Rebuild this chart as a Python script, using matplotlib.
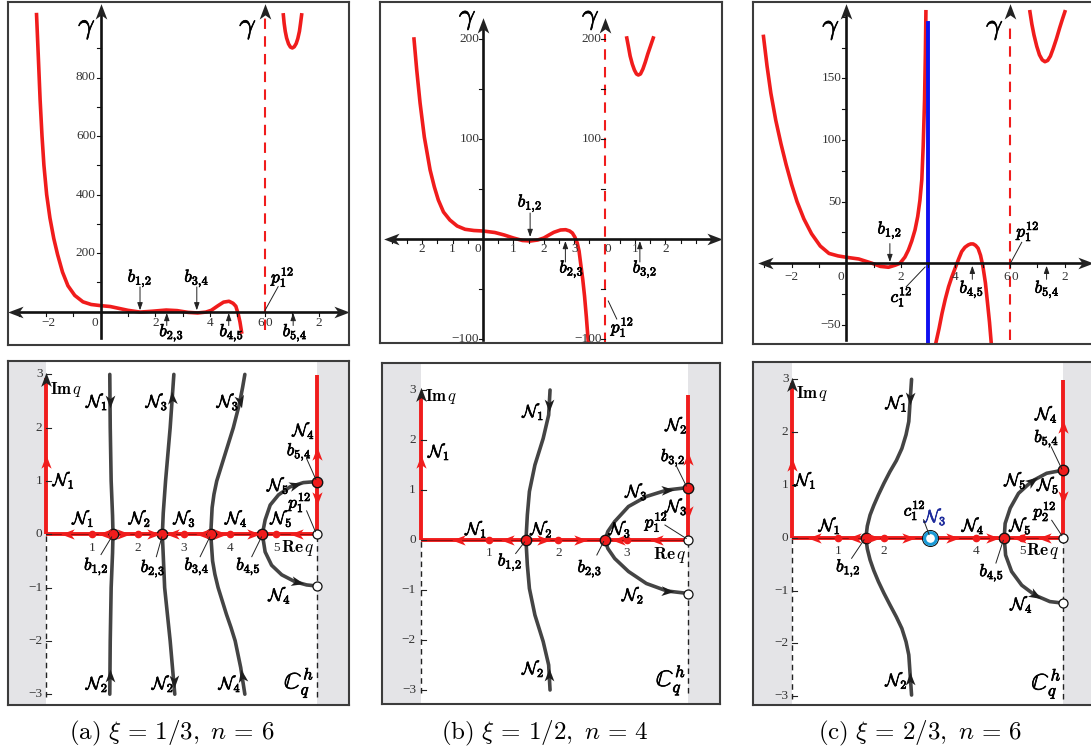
import numpy as np
import matplotlib
matplotlib.use("Agg")
import matplotlib.pyplot as plt
import matplotlib.patheffects as pe
from matplotlib.markers import MarkerStyle
from matplotlib.path import Path
from matplotlib.transforms import Affine2D

plt.rcParams["mathtext.fontset"] = "cm"
plt.rcParams["font.family"] = ["Liberation Serif", "DejaVu Serif"]

W, H = 1091, 753
RED = "#f01c1c"
GREY = "#444444"
BLUE = "#1010f0"
SHADE = "#e4e4e7"
TICKC = "#333333"

# ------------------------------------------------------------
# top row : gamma(q) on the real line (read off the picture)
# ------------------------------------------------------------
TA_X = [-2.35, -2.28, -2.22, -2.15, -2.08, -1.98, -1.86, -1.72, -1.58, -1.40,
        -1.20, -0.95, -0.65, -0.35, 0.0, 0.35, 0.70, 1.00, 1.44, 1.90,
        2.40, 2.80, 3.20, 3.55, 3.85, 4.05, 4.30, 4.50, 4.70, 4.85,
        4.95, 5.04, 5.10, 5.16]
TA_Y = [1015, 860, 725, 600, 500, 400, 320, 250, 195, 135,
        88, 55, 33, 24, 20, 17, 10, 4, -2, 1,
        5, 3, -3, -5, -2, 4, 20, 32, 35, 28,
        18, -10, -35, -70]
TA_UX = [6.69, 6.72, 6.76, 6.81, 6.88, 6.95, 7.02, 7.09, 7.16, 7.22, 7.28, 7.32, 7.36]
TA_UY = [1014, 985, 958, 935, 915, 904, 901, 905, 916, 933, 958, 985, 1014]
TA_POLE = 6

TB_X = [-2.27, -2.18, -2.07, -1.93, -1.74, -1.60, -1.47, -1.30, -1.09, -0.85,
        -0.59, -0.30, 0.0, 0.39, 0.70, 1.00, 1.30, 1.56, 1.80, 2.00,
        2.17, 2.33, 2.55, 2.72, 2.85, 2.94, 3.02, 3.10, 3.16, 3.21,
        3.28, 3.34, 3.40, 3.46]
TB_Y = [200, 169, 136, 102, 69, 52, 39, 27, 19, 13,
        9.7, 8.5, 8, 6.5, 4, 1, -1.5, -2, -1, 1,
        4, 6.7, 9, 9.3, 8, 6, 2, -4, -12, -24,
        -40, -57, -78, -102]
TB_UX = [4.73, 4.78, 4.84, 4.91, 4.98, 5.05, 5.11, 5.18, 5.26, 5.34, 5.42, 5.51, 5.60]
TB_UY = [201, 193, 183, 175, 169, 165, 164, 165, 170, 177, 185, 193, 201]
TB_POLE = 4

TC_X1 = [-3.03, -2.90, -2.76, -2.58, -2.39, -2.20, -2.00, -1.80, -1.55, -1.27,
         -0.95, -0.63, -0.30, 0.0, 0.46, 0.95, 1.25, 1.55, 1.80, 1.97,
         2.15, 2.28, 2.40, 2.52, 2.62, 2.70, 2.77, 2.82, 2.87, 2.90, 2.92]
TC_Y1 = [184, 160, 138, 116, 97, 80, 64, 50, 36, 24,
         14, 8, 6, 4.9, 3.5, 0, -2.5, -3.2, -1.5, 0,
         5, 10.8, 18, 27, 38, 51, 68, 95, 132, 170, 204]
TC_X2 = [3.27, 3.40, 3.51, 3.63, 3.75, 3.87, 3.99, 4.11, 4.23, 4.35, 4.47, 4.56,
         4.65, 4.74, 4.83, 4.92, 5.01, 5.10, 5.19, 5.25, 5.31]
TC_Y2 = [-66, -53, -40.6, -29, -19, -11, -4, 3, 9.5, 13, 14.9, 15.7,
         15.7, 14.5, 12.2, 6.5, -2.7, -16, -35, -48, -64]
TC_UX = [6.73, 6.80, 6.88, 6.98, 7.08, 7.18, 7.28, 7.38, 7.48, 7.58, 7.70, 7.82, 7.92, 8.01]
TC_UY = [204, 194, 185, 176, 169, 165, 163.5, 164.5, 168, 174, 182, 191, 198, 204]
TC_POLE = 6
TC_C = 3.0

# ------------------------------------------------------------
# bottom row : curves in the complex q strip
# ------------------------------------------------------------
BA_XR = 5.88
BA_C1X = [1.39, 1.40, 1.42, 1.45, 1.46, 1.45, 1.42, 1.40, 1.39]
BA_C1Y = [3, 2, 1, 0.35, 0, -0.35, -1, -2, -3]
BA_C2X = [2.78, 2.70, 2.60, 2.55, 2.53, 2.55, 2.58, 2.70, 2.80]
BA_C2Y = [3, 2, 1, 0.4, 0, -0.4, -1, -2, -3]
BA_C3X = [4.32, 4.27, 4.20, 4.07, 3.98, 3.89, 3.80, 3.71, 3.65, 3.61, 3.58, 3.62,
          3.67, 3.74, 3.83, 3.92, 4.02, 4.11, 4.23, 4.32]
BA_C3Y = [3, 2.75, 2.44, 2, 1.75, 1.5, 1.25, 1, 0.75, 0.5, 0, -0.5,
          -0.75, -1, -1.25, -1.5, -1.75, -2, -2.5, -3]
BA_C4X = [5.88, 5.59, 5.30, 5.05, 4.87, 4.76, 4.70, 4.76, 4.90, 5.12, 5.41, 5.66, 5.88]
BA_C4Y = [0.99, 0.97, 0.89, 0.74, 0.55, 0.27, 0, -0.33, -0.58, -0.76, -0.89, -0.95, -0.97]
BA_CRIT = [1.46, 2.53, 3.58, 4.70]
BA_UPPER = 0.99
BA_LOWER = -0.97
BA_RARROW = [0.49, 1.29, 1.68, 2.33, 2.76, 3.41, 3.78, 4.50, 5.45]
BA_RDIR = [-1, -1, 1, 1, -1, -1, 1, 1, -1]
BA_DOTS = [1, 2, 3, 4, 5]
BA_VARROW = [(0, 1.35, 1), (BA_XR, 1.5, 1), (BA_XR, 0.68, -1)]
BA_GARROW = [(1.39, 2.5, 0, -1), (1.39, -2.65, 0, 1), (2.74, 2.55, -0.08, 1),
             (2.79, -2.75, 0.03, -1), (4.22, 2.5, 0.25, -1), (4.25, -2.65, -0.2, 1),
             (5.40, 0.93, 1, 0.25), (5.45, -0.90, 1, -0.2)]

BB_XR = 3.89
BB_C1X = [1.88, 1.86, 1.78, 1.66, 1.58, 1.55, 1.53, 1.55, 1.58, 1.66, 1.78, 1.86, 1.88]
BB_C1Y = [3, 2.5, 2.03, 1.5, 0.97, 0.5, 0, -0.5, -0.97, -1.5, -2.03, -2.5, -3]
BB_C2X = [3.89, 3.58, 3.28, 3.02, 2.82, 2.72, 2.68, 2.72, 2.82, 3.02, 3.28, 3.58, 3.89]
BB_C2Y = [1.05, 1.0, 0.87, 0.67, 0.37, 0.17, 0, -0.17, -0.37, -0.63, -0.87, -1.02, -1.07]
BB_CRIT = [1.53, 2.68]
BB_UPPER = 1.05
BB_LOWER = -1.07
BB_RARROW = [0.55, 1.27, 1.78, 2.31, 2.88, 3.43]
BB_RDIR = [-1, -1, 1, 1, -1, -1]
BB_DOTS = [1, 2, 3]
BB_VARROW = [(0, 1.57, 1), (BB_XR, 1.62, 1), (BB_XR, 0.57, -1)]
BB_GARROW = [(1.86, 2.7, 0, -1), (1.86, -2.7, 0, 1), (3.58, 1.0, 1, 0.08), (3.58, -1.02, 1, -0.08)]

BC_XR = 5.89
BC_C1X = [2.60, 2.57, 2.54, 2.48, 2.39, 2.27, 2.13, 2.00, 1.88, 1.78, 1.70, 1.64, 1.61,
          1.64, 1.70, 1.78, 1.88, 2.00, 2.13, 2.27, 2.39, 2.48, 2.54, 2.57, 2.60]
BC_C1Y = [3.0, 2.6, 2.2, 1.95, 1.69, 1.46, 1.25, 1.03, 0.81, 0.61, 0.43, 0.22, 0,
          -0.21, -0.42, -0.62, -0.83, -1.05, -1.27, -1.5, -1.72, -1.97, -2.22, -2.6, -2.98]
BC_C2X = [5.89, 5.53, 5.21, 4.92, 4.74, 4.63, 4.61, 4.64, 4.77, 4.99, 5.28, 5.60, 5.89]
BC_C2Y = [1.28, 1.22, 1.07, 0.84, 0.56, 0.27, 0, -0.33, -0.64, -0.90, -1.09, -1.21, -1.24]
BC_CRIT = [1.61, 4.61]
BC_UPPER = 1.28
BC_LOWER = -1.24
BC_CPT = 3.0
BC_RARROW = [0.51, 1.37, 1.77, 2.53, 3.47, 4.34, 4.95, 5.50]
BC_RDIR = [-1, -1, 1, 1, 1, 1, -1, -1]
BC_DOTS = [1, 2, 4, 5]
BC_VARROW = [(0, 1.38, 1), (BC_XR, 2.1, 1), (BC_XR, 0.78, -1)]
BC_GARROW = [(2.57, 2.64, -0.03, -1), (2.57, -2.67, -0.03, 1),
             (5.21, 1.07, 0.61, 0.38), (5.28, -1.09, 0.61, -0.31)]

CAPTIONS = [r"$\mathrm{(a)}\ \xi\, =\, 1/3,\ n\, =\, 6$",
            r"$\mathrm{(b)}\ \xi\, =\, 1/2,\ n\, =\, 4$",
            r"$\mathrm{(c)}\ \xi\, =\, 2/3,\ n\, =\, 6$"]

# ------------------------------------------------------------
fig = plt.figure(figsize=(W / 100, H / 100), dpi=100)

HEAD = Path([(0, 1), (-0.7, -0.85), (0, -0.35), (0.7, -0.85), (0, 1)],
            [Path.MOVETO, Path.LINETO, Path.LINETO, Path.LINETO, Path.CLOSEPOLY])


def panel(box, origin, scale):
    x0, y0, x1, y1 = box
    ox, oy = origin
    sx, sy = scale
    ax = fig.add_axes([x0 / W, 1 - y1 / H, (x1 - x0) / W, (y1 - y0) / H])
    ax.set_xlim((x0 - ox) / sx, (x1 - ox) / sx)
    ax.set_ylim((oy - y1) / sy, (oy - y0) / sy)
    ax.set_xticks([])
    ax.set_yticks([])
    for s in ax.spines.values():
        s.set_color("#3c3c3c")
        s.set_linewidth(1.5)
        s.set_zorder(10)
    return ax, sx, sy


def head(ax, x, y, dx, dy, sx, sy, color, size):
    ang = np.degrees(np.arctan2(dy * sy, dx * sx))
    m = MarkerStyle(HEAD, transform=Affine2D().rotate_deg(ang - 90))
    ax.plot([x], [y], ls="none", marker=m, ms=size, color=color, mew=0, zorder=7)


def mlabel(ax, x, y, s, size=12.5, color="k", ha="center", bold=True):
    t = ax.text(x, y, s, fontsize=size, color=color, ha=ha, va="center", zorder=8)
    if bold:
        t.set_path_effects([pe.withStroke(linewidth=0.5, foreground=color)])


def tlabel(ax, x, y, s, ha="center"):
    ax.text(x, y, s, fontsize=9.5, color=TICKC, ha=ha, va="center", zorder=8)


def leader(ax, p0, p1):
    ax.plot([p0[0], p1[0]], [p0[1], p1[1]], color="#222", lw=0.7, zorder=8)


def pointer(ax, x, ya, yb):
    ax.annotate("", xy=(x, yb), xytext=(x, ya),
                arrowprops=dict(arrowstyle="-|>,head_length=0.45,head_width=0.16",
                                lw=0.7, color="#222", shrinkA=0, shrinkB=0), zorder=8)


def axes_cross(ax, sx, sy, xl, xr, yb, yt):
    ax.plot([xl, xr], [0, 0], color="#111", lw=1.9, zorder=4)
    ax.plot([0, 0], [yb, yt], color="#111", lw=1.9, zorder=4)
    head(ax, xl, 0, -1, 0, sx, sy, "#222", 12)
    head(ax, xr, 0, 1, 0, sx, sy, "#222", 12)
    head(ax, 0, yt, 0, 1, sx, sy, "#222", 12)


def xmarks(ax, sy, xs):
    for x in xs:
        ax.plot([x, x], [0, -4 / sy], color="#111", lw=0.8, zorder=4)


def ymarks(ax, sx, x0, ys):
    for y in ys:
        ax.plot([x0 - 4 / sx, x0], [y, y], color="#111", lw=0.8, zorder=4)


# ---------------- top (a) ----------------
ax, sx, sy = panel((8, 2, 349, 345), (100.7, 311.5), (27.3, 0.2925))
axes_cross(ax, sx, sy, -3.1, 8.8, -92, 1025)
xmarks(ax, sy, range(-3, 9))
ymarks(ax, sx, 0, range(100, 1000, 100))
ax.plot(TA_X, TA_Y, color=RED, lw=2.6, zorder=3)
ax.plot(TA_UX, TA_UY, color=RED, lw=2.6, zorder=3)
ax.plot([TA_POLE, TA_POLE], [-63, 1005], color=RED, lw=1.5, ls=(0, (5, 3.5)), zorder=3)
head(ax, TA_POLE, 1025, 0, 1, sx, sy, "#222", 12)
mlabel(ax, -0.5, 968, r"$\gamma$", size=21)
mlabel(ax, TA_POLE - 0.6, 968, r"$\gamma$", size=21)
for v in (200, 400, 600, 800):
    tlabel(ax, -0.18, v, str(v), ha="right")
for x, s in [(-1.9, "\u22122"), (-0.2, "0"), (2, "2"), (4, "4"),
             (TA_POLE - 0.13, "6"), (TA_POLE + 0.17, "0"), (8, "2")]:
    tlabel(ax, x, -40, s)
pointer(ax, 1.44, 84, 4)
mlabel(ax, 1.44, 114, r"$b_{1,\!2}$")
pointer(ax, 3.52, 84, 4)
mlabel(ax, 3.52, 114, r"$b_{3,\!4}$")
pointer(ax, 2.42, -48, -5)
mlabel(ax, 2.6, -72, r"$b_{2,\!3}$")
pointer(ax, 4.69, -48, -5)
mlabel(ax, 4.8, -72, r"$b_{4,\!5}$")
pointer(ax, 7.05, -48, -5)
mlabel(ax, 7.12, -72, r"$b_{5,\!4}$")
leader(ax, (6.5, 85), (6.02, 4))
mlabel(ax, 6.68, 118, r"$p_1^{12}$")

# ---------------- top (b) ----------------
ax, sx, sy = panel((380, 2, 722, 343), (483.0, 239.0), (30.4, 1.0))
axes_cross(ax, sx, sy, -3.0, 7.6, -101, 213)
xmarks(ax, sy, [-3, -2.5, -2, -1.5, -1, -0.5, 0.5, 1, 1.5, 2, 2.5, 3, 3.5, 4.5, 5, 5.5, 6, 6.5, 7])
ymarks(ax, sx, 0, range(-100, 201, 50))
ymarks(ax, sx, TB_POLE, range(-100, 201, 50))
ax.plot(TB_X, TB_Y, color=RED, lw=2.6, zorder=3)
ax.plot(TB_UX, TB_UY, color=RED, lw=2.6, zorder=3)
ax.plot([TB_POLE, TB_POLE], [-104, 205], color=RED, lw=1.5, ls=(0, (5, 3.5)), zorder=3)
head(ax, TB_POLE, 213, 0, 1, sx, sy, "#222", 12)
mlabel(ax, -0.5, 220, r"$\gamma$", size=21)
mlabel(ax, TB_POLE - 0.45, 220, r"$\gamma$", size=21)
for v, s in [(200, "200"), (100, "100"), (-100, "\u2212100")]:
    tlabel(ax, -0.12, v, s, ha="right")
    tlabel(ax, TB_POLE - 0.1, v, s, ha="right")
for x, s in [(-2, "2"), (-1, "1"), (-0.17, "0"), (1, "1"), (2, "2"), (3, "3"),
             (TB_POLE + 0.1, "0"), (5, "1"), (6, "2")]:
    tlabel(ax, x, -10, s)
pointer(ax, 1.55, 26, 2)
mlabel(ax, 1.55, 36, r"$b_{1,\!2}$")
pointer(ax, 2.71, -23, -2)
mlabel(ax, 2.92, -30, r"$b_{2,\!3}$")
pointer(ax, 5.16, -23, -2)
mlabel(ax, 5.33, -30, r"$b_{3,\!2}$")
leader(ax, (4.12, -62), (4.4, -80))
mlabel(ax, 4.6, -88, r"$p_1^{12}$")

# ---------------- top (c) ----------------
ax, sx, sy = panel((753, 2, 1093, 344), (846.2, 263.3), (27.3, 1.233))
axes_cross(ax, sx, sy, -2.95, 8.75, -62, 204)
xmarks(ax, sy, [x for x in range(-3, 9) if x != 0])
ymarks(ax, sx, 0, range(-50, 201, 25))
ax.plot(TC_X1, TC_Y1, color=RED, lw=2.6, zorder=3)
ax.plot(TC_X2, TC_Y2, color=RED, lw=2.6, zorder=3)
ax.plot(TC_UX, TC_UY, color=RED, lw=2.6, zorder=3)
ax.plot([TC_C, TC_C], [-70, 195], color=BLUE, lw=2.8, zorder=3.5)
ax.plot([TC_POLE, TC_POLE], [-62, 195], color=RED, lw=1.5, ls=(0, (5, 3.5)), zorder=3)
head(ax, TC_POLE, 204, 0, 1, sx, sy, "#222", 12)
mlabel(ax, -0.55, 190, r"$\gamma$", size=21)
mlabel(ax, TC_POLE - 0.55, 190, r"$\gamma$", size=21)
for v, s in [(150, "150"), (100, "100"), (50, "50"), (-50, "\u221250")]:
    tlabel(ax, -0.18, v, s, ha="right")
for x, s in [(-2, "\u22122"), (-0.2, "0"), (2, "2"), (4, "4"),
             (TC_POLE - 0.13, "6"), (TC_POLE + 0.17, "0"), (8, "2")]:
    tlabel(ax, x, -11, s)
pointer(ax, 1.6, 16, 1)
mlabel(ax, 1.6, 27, r"$b_{1,\!2}$")
leader(ax, (2.2, -19), (2.89, -3))
mlabel(ax, 2.03, -27, r"$c_1^{12}$")
pointer(ax, 4.62, -13, -2)
mlabel(ax, 4.6, -21, r"$b_{4,\!5}$")
pointer(ax, 7.34, -13, -2)
mlabel(ax, 7.36, -21, r"$b_{5,\!4}$")
leader(ax, (6.43, 17), (6.04, 1))
mlabel(ax, 6.67, 26, r"$p_1^{12}$")


# ---------------- bottom row ----------------
def draw_strip(ax, sx, sy, xr, xtop_r, curves, crit, upper, lower, rarrow, rdir,
               dots, varrow, garrow):
    x0, x1 = ax.get_xlim()
    ax.axvspan(x0, 0, color=SHADE, lw=0, zorder=0)
    ax.axvspan(xr, x1, color=SHADE, lw=0, zorder=0)
    for x in (0, xr):
        ax.plot([x, x], [-3.05, 0], color="#222", lw=1.0, ls=(0, (4, 3)), zorder=2)
    ax.plot([0, xr], [0, 0], color=RED, lw=2.8, zorder=3, solid_capstyle="butt")
    ax.plot([0, xr], [0, 0], color="#300", lw=0.5, alpha=0.7, zorder=3.2)
    ax.plot([0, 0], [0, 2.93], color=RED, lw=2.8, zorder=3, solid_capstyle="butt")
    ax.plot([xr, xr], [0, xtop_r], color=RED, lw=2.8, zorder=3, solid_capstyle="butt")
    head(ax, 0, 2.9, 0, 1, sx, sy, "#222", 11)
    for y in range(-3, 4):
        ax.plot([0, 5 / sx], [y, y], color="#222", lw=0.8, zorder=4)
        tlabel(ax, -0.07, y, str(y).replace("-", "\u2212"), ha="right")
    for cx, cy in curves:
        ax.plot(cx, cy, color=GREY, lw=2.6, zorder=4, solid_capstyle="round")
    for x, d in zip(rarrow, rdir):
        head(ax, x, 0, d, 0, sx, sy, RED, 10.5)
    for x, y, d in varrow:
        head(ax, x, y, 0, d, sx, sy, RED, 10.5)
    for x, y, dx, dy in garrow:
        head(ax, x, y, dx, dy, sx, sy, "#1e1e1e", 10)
    ax.plot(dots, [0] * len(dots), ls="none", marker="o", ms=4.5, color=RED, zorder=5)
    for d in dots:
        tlabel(ax, d, -0.26, str(d))
    ax.plot(crit, [0] * len(crit), ls="none", marker="o", ms=7.5, mfc=RED, mec="#111",
            mew=1.0, zorder=6)
    ax.plot([xr], [upper], ls="none", marker="o", ms=7.5, mfc=RED, mec="#111", mew=1.0, zorder=6)
    ax.plot([xr, xr], [0, lower], ls="none", marker="o", ms=6.5, mfc="white",
            mec="#111", mew=0.9, zorder=6)


N = r"$\mathcal{N}_{%d}$"

# bottom (a)
ax, sx, sy = panel((8, 361, 349, 705), (45.7, 534.3), (46.1, 53.3))
draw_strip(ax, sx, sy, BA_XR, 2.99,
           [(BA_C1X, BA_C1Y), (BA_C2X, BA_C2Y), (BA_C3X, BA_C3Y), (BA_C4X, BA_C4Y)],
           BA_CRIT, BA_UPPER, BA_LOWER, BA_RARROW, BA_RDIR, BA_DOTS, BA_VARROW, BA_GARROW)
mlabel(ax, 0.1, 2.72, r"$\mathbf{Im}\,q$", size=12, ha="left", bold=False)
mlabel(ax, 0.15, 1.02, N % 1, ha="left")
for x, k in [(0.82, 1), (2.05, 2), (3.02, 3), (4.14, 4), (5.12, 5)]:
    mlabel(ax, x, 0.3, N % k)
for (x, y), s, p0, p1 in [((1.1, -0.6), r"$b_{1,\!2}$", (1.2, -0.38), (1.43, -0.05)),
                          ((2.33, -0.64), r"$b_{2,\!3}$", (2.4, -0.42), (2.52, -0.05)),
                          ((3.28, -0.6), r"$b_{3,\!4}$", (3.35, -0.42), (3.56, -0.05)),
                          ((4.4, -0.6), r"$b_{4,\!5}$", (4.47, -0.42), (4.68, -0.05)),
                          ((5.52, 0.6), r"$p_1^{12}$", (5.66, 0.44), (5.85, 0.05)),
                          ((5.5, 1.55), r"$b_{5,\!4}$", (5.66, 1.42), (5.86, 1.03))]:
    mlabel(ax, x, y, s)
    leader(ax, p0, p1)
mlabel(ax, 5.48, -0.25, r"$\mathbf{Re}\,q$", bold=False)
mlabel(ax, 5.05, 0.92, N % 5)
mlabel(ax, 5.6, 1.95, N % 4)
mlabel(ax, 5.08, -1.14, N % 4)
for x, k in [(1.12, 1), (2.42, 3), (3.96, 3)]:
    mlabel(ax, x, 2.49, N % k)
for x, k in [(1.12, 2), (2.55, 2), (4.0, 4)]:
    mlabel(ax, x, -2.8, N % k)
mlabel(ax, 5.5, -2.78, r"$\mathbb{C}_q^h$", size=17)

# bottom (b)
ax, sx, sy = panel((382, 363, 720, 704), (420.7, 540.0), (68.8, 50.0))
draw_strip(ax, sx, sy, BB_XR, 2.9,
           [(BB_C1X, BB_C1Y), (BB_C2X, BB_C2Y)],
           BB_CRIT, BB_UPPER, BB_LOWER, BB_RARROW, BB_RDIR, BB_DOTS, BB_VARROW, BB_GARROW)
mlabel(ax, 0.06, 2.87, r"$\mathbf{Im}\,q$", size=12, ha="left", bold=False)
mlabel(ax, 0.27, 1.77, N % 1)
for x, k in [(0.81, 1), (1.76, 2), (2.9, 3)]:
    mlabel(ax, x, 0.22, N % k)
for (x, y), s, p0, p1 in [((1.3, -0.44), r"$b_{1,\!2}$", (1.38, -0.27), (1.51, -0.04)),
                          ((2.46, -0.57), r"$b_{2,\!3}$", (2.56, -0.3), (2.66, -0.03)),
                          ((3.43, 0.36), r"$p_1^{12}$", (3.55, 0.3), (3.86, 0.03)),
                          ((3.67, 1.65), r"$b_{3,\!2}$", (3.72, 1.47), (3.86, 1.08))]:
    mlabel(ax, x, y, s)
    leader(ax, p0, p1)
mlabel(ax, 3.62, -0.3, r"$\mathbf{Re}\,q$", bold=False)
mlabel(ax, 3.14, 0.97, N % 3)
mlabel(ax, 3.72, 2.3, N % 2)
mlabel(ax, 3.72, 0.67, N % 3)
mlabel(ax, 3.09, -1.1, N % 2)
mlabel(ax, 1.64, 2.57, N % 1)
mlabel(ax, 1.64, -2.57, N % 2)
mlabel(ax, 3.64, -2.8, r"$\mathbb{C}_q^h$", size=17)

# bottom (c)
ax, sx, sy = panel((753, 362, 1093, 705), (791.7, 537.7), (46.1, 52.8))
draw_strip(ax, sx, sy, BC_XR, 2.99,
           [(BC_C1X, BC_C1Y), (BC_C2X, BC_C2Y)],
           BC_CRIT, BC_UPPER, BC_LOWER, BC_RARROW, BC_RDIR, BC_DOTS, BC_VARROW, BC_GARROW)
ax.plot([BC_CPT], [0], ls="none", marker="o", ms=11.5, mfc="none", mec="#111", mew=0.8, zorder=6)
ax.plot([BC_CPT], [0], ls="none", marker="o", ms=8.5, mfc="white", mec="#1a9ad6", mew=2.2, zorder=6.5)
mlabel(ax, 0.1, 2.73, r"$\mathbf{Im}\,q$", size=12, ha="left", bold=False)
mlabel(ax, 0.3, 1.09, N % 1)
for x, k in [(0.83, 1), (3.94, 4), (4.97, 5)]:
    mlabel(ax, x, 0.23, N % k)
mlabel(ax, 3.12, 0.4, N % 3, color="#1d2b9c")
for (x, y), s, p0, p1 in [((1.23, -0.57), r"$b_{1,\!2}$", (1.3, -0.39), (1.57, -0.04)),
                          ((2.67, 0.52), r"$c_1^{12}$", (2.86, 0.34), (2.98, 0.06)),
                          ((4.34, -0.66), r"$b_{4,\!5}$", (4.43, -0.48), (4.59, -0.05)),
                          ((5.5, 0.5), r"$p_2^{12}$", (5.64, 0.33), (5.86, 0.04)),
                          ((5.53, 1.88), r"$b_{5,\!4}$", (5.63, 1.72), (5.86, 1.3))]:
    mlabel(ax, x, y, s)
    leader(ax, p0, p1)
mlabel(ax, 5.44, -0.26, r"$\mathbf{Re}\,q$", bold=False)
mlabel(ax, 4.86, 1.09, N % 5)
mlabel(ax, 5.57, 1.0, N % 5)
mlabel(ax, 5.53, 2.34, N % 4)
mlabel(ax, 4.99, -1.26, N % 4)
mlabel(ax, 2.28, 2.55, N % 1)
mlabel(ax, 2.28, -2.7, N % 2)
mlabel(ax, 5.53, -2.76, r"$\mathbb{C}_q^h$", size=17)

for xc, cap in zip((172, 545, 920), CAPTIONS):
    fig.text(xc / W, 1 - 733 / H, cap, fontsize=18, ha="center", va="center")

fig.savefig("out.png", dpi=100)
